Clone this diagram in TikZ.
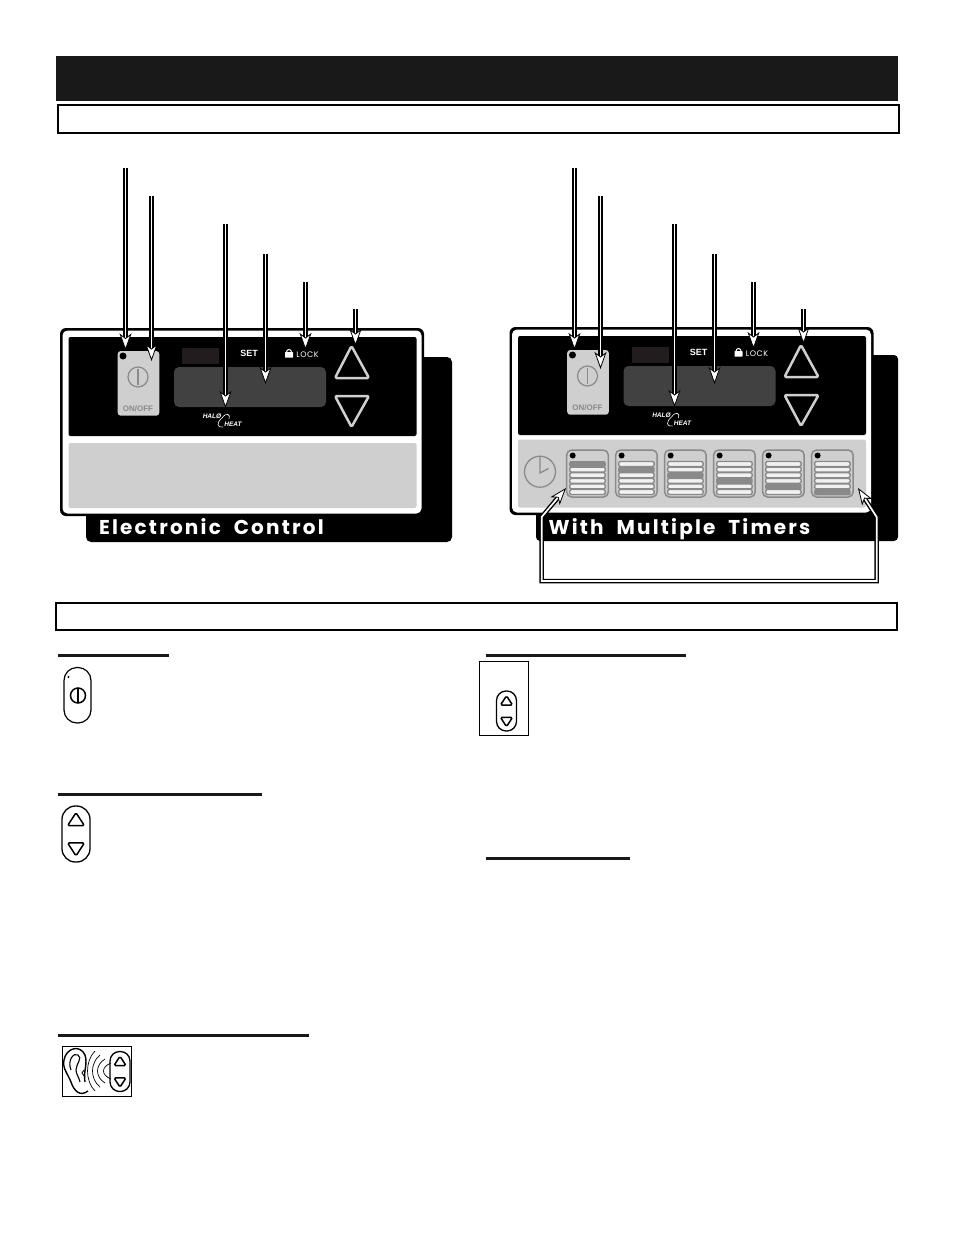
\documentclass[tikz,border=0pt]{standalone}
\usepackage{fontspec}
\usepackage{tikz}
\usetikzlibrary{arrows.meta}
\setmainfont{Liberation Sans}
\newfontfamily\bandfont[LetterSpace=11,WordSpace=2]{Poppins}
\newfontfamily\lockfont[LetterSpace=6]{Poppins}
\definecolor{panelgray}{HTML}{CFCFCF}
\definecolor{markgray}{HTML}{8A8A8A}
\definecolor{screengray}{HTML}{414141}
\definecolor{darkred}{HTML}{231C1E}
\tikzset{
	whitetip/.tip={Stealth[length=17pt,width=12pt,inset=4.5pt,fill=white,line width=0.8pt]},
	callout/.style={draw=black,double=white,line width=1.4pt,double distance=1.7pt,-whitetip},
	rulebar/.style={line width=3pt,color=black!90},
	titlebox/.style={draw=black,line width=1.5pt,fill=white},
	updowntri/.style={draw=black,line width=1.5pt,fill=white,rounded corners=1.5pt},
	pics/updown/.style={code={
		\draw[line width=1.3pt,rounded corners=#1*0.48pt] (-#1*0.5,-#1) rectangle (#1*0.5,#1);
		\draw[updowntri] (0,-#1*0.76) -- (#1*0.3,-#1*0.3) -- (-#1*0.3,-#1*0.3) -- cycle;
		\draw[updowntri] (0,#1*0.78) -- (#1*0.3,#1*0.32) -- (-#1*0.3,#1*0.32) -- cycle;
	}}
}
% one control face without the grey part below it
\newcommand{\controlface}[2]{
	\begin{scope}[shift={(#1,#2)}]
	\fill[black,rounded corners=6pt] (60,328) rectangle (424,516);
	\fill[white,rounded corners=5pt] (62.5,330.5) rectangle (421.5,513.5);
	\fill[black,rounded corners=2pt] (68.5,337) rectangle (416.5,436);
	\fill[panelgray,rounded corners=3pt] (117.7,351) rectangle (159.3,415.7);
	\fill[black] (123,356) circle (3.5);
	\draw[markgray,line width=1.2pt] (138,377) circle (10);
	\draw[markgray,line width=1.2pt] (138,369) -- (138,385);
	\node[text=markgray,font=\bfseries\fontsize{8}{8}\selectfont] at (138,408.5) {ON/OFF};
	\fill[darkred] (182,348) rectangle (219,364);
	\fill[screengray,rounded corners=5pt] (174,367) rectangle (326,407);
	\node[text=white,font=\bfseries\fontsize{9}{9}\selectfont] at (249,353.5) {SET};
	\fill[white,rounded corners=0.5pt] (285,352) rectangle (293,357.5);
	\draw[white,line width=1pt] (286.5,352) arc[start angle=180,end angle=360,radius=2.5];
	\node[text=white,font=\lockfont\fontsize{8}{8}\selectfont] at (307.5,354.5) {LOCK};
	\draw[panelgray,line width=2.5pt,line join=round,rounded corners=1.5pt] (351.5,346) -- (369,378) -- (335,378) -- cycle;
	\draw[panelgray,line width=2.5pt,line join=round,rounded corners=1.5pt] (351.5,427) -- (369,396) -- (335,396) -- cycle;
	\node[text=white,font=\bfseries\itshape\fontsize{6.5}{6.5}\selectfont] at (212,416) {HAL\O};
	\node[text=white,font=\bfseries\itshape\fontsize{6.5}{6.5}\selectfont] at (233,424) {HEAT};
	\draw[white,line width=0.6pt] (222,418) .. controls (216,423) and (217,428) .. (223,427);
	\draw[white,line width=0.6pt] (222,418) .. controls (226,412) and (231,414) .. (229,419);
	\end{scope}
}
\begin{document}
\begin{tikzpicture}[x=1pt,y=-1pt]
	\useasboundingbox (0,0) rectangle (954,1235);
	% headings
	\fill[black!90] (56,56) rectangle (898,101);
	\draw[titlebox] (58,105) rectangle (899,133);
	\draw[titlebox] (56,603) rectangle (897,630);

	% left panel
	\fill[black,rounded corners=5pt] (86,357) rectangle (452,542);
	\controlface{0}{0}
	\fill[panelgray,rounded corners=2pt] (68.5,443) rectangle (416.5,508);
	\node[text=white,font=\bandfont\bfseries\fontsize{20}{20}\selectfont,anchor=base west] (bandL) at (95.5,534) {Electronic Control};

	% right panel
	\fill[black,rounded corners=4pt] (536,355) rectangle (898,541);
	\controlface{449.5}{-1}
	\fill[panelgray,rounded corners=2pt] (518,439.5) rectangle (866,507.5);
	\node[text=white,font=\bandfont\bfseries\fontsize{20}{20}\selectfont,anchor=base west] (bandR) at (545,534) {With Multiple Timers};
	\draw[markgray,line width=1.3pt] (540,471.7) circle (15.5);
	\draw[markgray,line width=1.3pt] (540,457) -- (540,473) -- (548.5,468.5);
	\foreach \n/\bx in {0/566.7,1/615.6,2/664.6,3/713.6,4/762.6,5/811.6} {
		\draw[markgray,line width=1.5pt,fill=panelgray,rounded corners=5pt] (\bx,450) rectangle ++(41.6,47);
		\foreach \s in {0,...,5} {
			\ifnum\s=\n
				\fill[markgray,rounded corners=2pt] (\bx+2.5,461+\s*5.6) rectangle ++(36.6,6.4);
			\else
				\draw[markgray,line width=1.4pt,fill=panelgray!30!white,rounded corners=2pt] (\bx+3,461.5+\s*5.6) rectangle ++(35.6,5);
			\fi
		}
		\fill[black] (\bx+6,455.5) circle (3);
	}

	% arrow ends
	\foreach \name/\ax/\ay/\bx/\by in {
		a/125.5/168/125.5/350.5, b/151.5/196/151.5/361, c/225.5/224/225.5/408, d/265.5/254/265.5/384, e/305.5/282/305.5/350, f/355.5/309/355.5/346,
		g/574.5/168/574.5/350, h/600.5/196/600.5/369, i/674.5/224/674.5/407, j/714.5/254/714.5/384, k/753.5/282/753.5/349, l/803.5/309/803.5/344} {
		\coordinate (\name from) at (\ax,\ay);
		\coordinate (\name to) at (\bx,\by);
		\draw[callout] (\name from) -- (\name to);
	}

	% frame below the timers
	\coordinate (timerL) at (566,488);
	\coordinate (timerR) at (858,488);
	\coordinate (frameA) at (541.7,517);
	\coordinate (frameB) at (541.7,581);
	\coordinate (frameC) at (876.7,581);
	\coordinate (frameD) at (876.7,517);
	\draw[callout,whitetip-whitetip] (timerL) -- (frameA) -- (frameB) -- (frameC) -- (frameD) -- (timerR);

	% section rules
	\draw[rulebar] (58,655) -- (169,655);
	\draw[rulebar] (58,794) -- (262,794);
	\draw[rulebar] (58,1035) -- (309,1035);
	\draw[rulebar] (486,655) -- (686,655);
	\draw[rulebar] (486,858) -- (630,858);

	% on/off icon
	\draw[line width=1.2pt,rounded corners=13pt] (64,667.5) rectangle (91,723);
	\fill[black] (68.5,677) circle (1.2);
	\draw[line width=1.5pt] (78,695.5) circle (7.5);
	\draw[line width=1.5pt] (78,688) -- (78,703);

	% up and down icons
	\pic at (76,834) {updown=28};
	\draw[line width=1pt] (479.5,661.5) rectangle (528.5,735.5);
	\pic at (506.5,711) {updown=20};

	% ear icon
	\draw[line width=1pt] (62.5,1046.5) rectangle (131.5,1096);
	\pic at (120,1071.5) {updown=20};
	\draw[line width=1.4pt] (88,1091) .. controls (80,1097) and (74,1091) .. (71,1082) .. controls (68,1074) and (62,1068) .. (64,1060) .. controls (66,1048) and (80,1044) .. (85,1055) .. controls (88,1064) and (83,1072) .. (85,1082);
	\draw[line width=1.1pt] (71,1070) .. controls (67,1060) and (74,1052) .. (78,1055) .. controls (83,1058) and (76,1064) .. (76,1070) .. controls (76,1074) and (79,1077) .. (80,1082);
	\draw[line width=0.9pt] (84,1070) -- (82,1073) -- (85,1077);
	\foreach \wx/\wy in {88/20,93/16,98/12,104/8} {
		\draw[line width=0.7pt] (\wx+7,1071-\wy) .. controls (\wx-3,1071-\wy/2) and (\wx-3,1071+\wy/2) .. (\wx+7,1071+\wy);
	}
\end{tikzpicture}
\end{document}
